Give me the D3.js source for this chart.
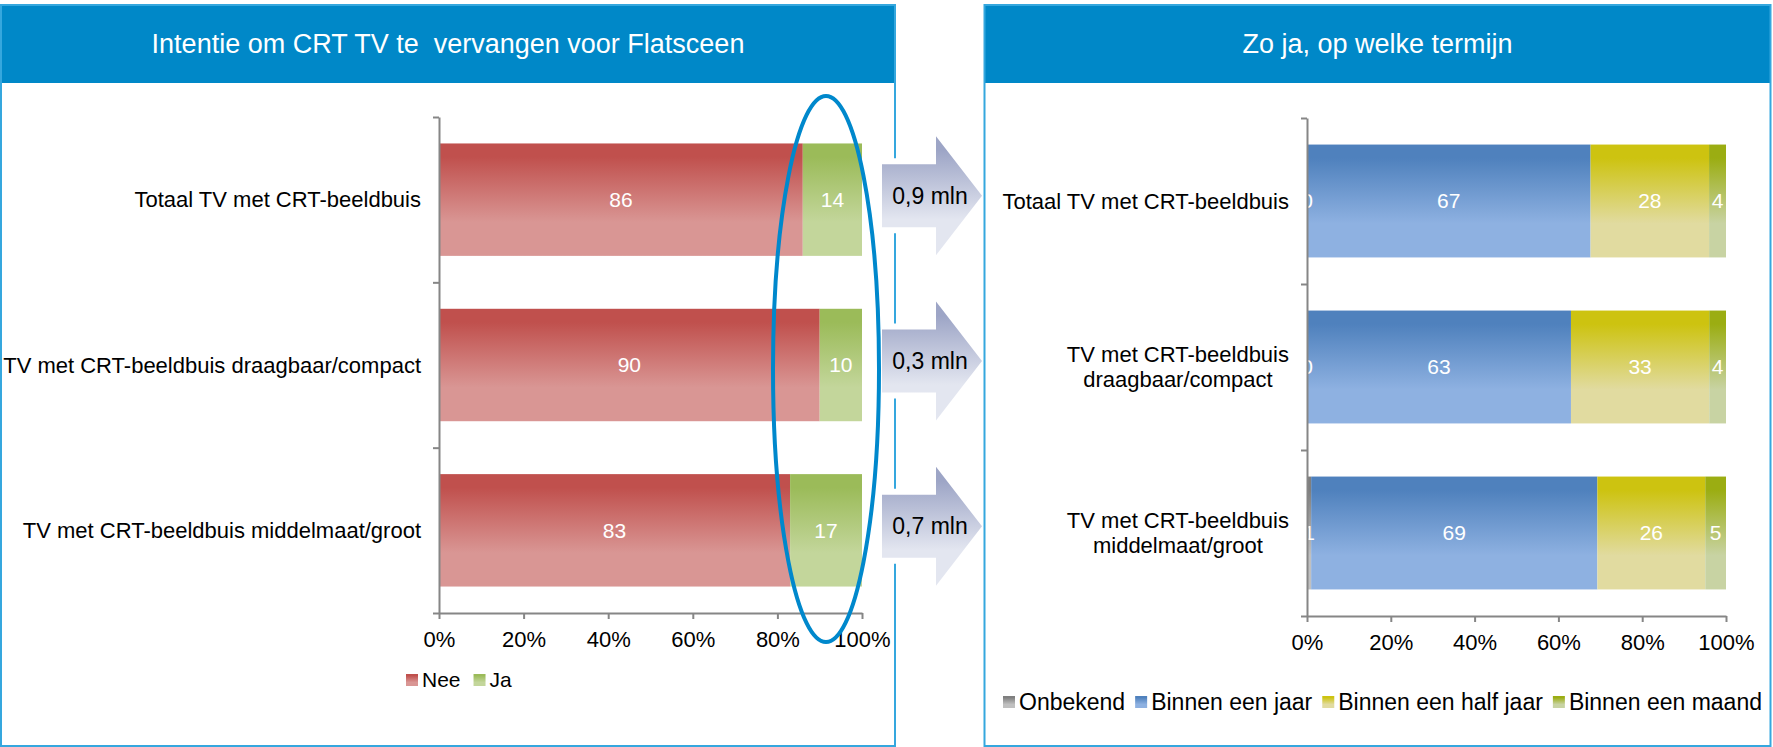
<!DOCTYPE html>
<html>
<head>
<meta charset="utf-8">
<script src="https://cdn.jsdelivr.net/npm/d3@7"></script>
<style>
  body { margin: 0; background: #fff; }
  svg text { font-family: "Liberation Sans", Arial, sans-serif; }
</style>
</head>
<body>
<svg id="chart" width="1773" height="747"></svg>
<script>
// data
const leftTitle = "Intentie om CRT TV te  vervangen voor Flatsceen";
const rightTitle = "Zo ja, op welke termijn";

const categories = ["Totaal TV met CRT-beeldbuis", "TV met CRT-beeldbuis draagbaar/compact", "TV met CRT-beeldbuis middelmaat/groot"];

const leftSeries = ["Nee", "Ja"];
const neeValues = [86, 90, 83];
const jaValues = [14, 10, 17];

const rightSeries = ["Onbekend", "Binnen een jaar", "Binnen een half jaar", "Binnen een maand"];
const onbekendValues = [0, 0, 1];
const jaarValues = [67, 63, 69];
const halfJaarValues = [28, 33, 26];
const maandValues = [4, 4, 5];

const mlnLabels = ["0,9 mln", "0,3 mln", "0,7 mln"];
const xTicks = [0, 0.2, 0.4, 0.6, 0.8, 1];

const svg = d3.select("#chart");
const defs = svg.append("defs");

// vertical gradients like the office bar fills
function grad(id, top, bottom) {
  const g = defs.append("linearGradient").attr("id", id)
    .attr("x1", 0).attr("y1", 0).attr("x2", 0).attr("y2", 1);
  [[0, top], [0.12, top], [0.7, bottom], [1, bottom]].forEach(([o, c]) =>
    g.append("stop").attr("offset", o).attr("stop-color", c));
}
grad("gNee", "#C0504D", "#D99694");
grad("gJa", "#9BBB59", "#C3D69B");
grad("gOnb", "#7F7F7F", "#C0C0C0");
grad("gJaar", "#4F81BD", "#8EB1E1");
grad("gHalf", "#CDC310", "#E1DBA0");
grad("gMaand", "#9BAD12", "#C8D3A3");
grad("gArrow", "#9DA5C6", "#E3E6F0");

const borderCol = "#35A7DE";
const headerCol = "#0088C8";

function panel(x0, x1, title) {
  const g = svg.append("g");
  g.append("rect").attr("x", x0).attr("y", 5).attr("width", x1 - x0).attr("height", 78)
    .attr("fill", headerCol);
  g.append("text").attr("x", (x0 + x1) / 2).attr("y", 53)
    .attr("text-anchor", "middle").attr("fill", "#fff")
    .style("font-size", "27px").style("white-space", "pre")
    .text(title);
  return g;
}
function panelBorder(x0, x1) {
  svg.append("rect").attr("x", x0).attr("y", 5).attr("width", x1 - x0).attr("height", 741)
    .attr("fill", "none").attr("stroke", borderCol).attr("stroke-width", 2);
}

// measuring helper
const meas = svg.append("text").style("font-size", "22px").attr("visibility", "hidden");
function textW(s) { meas.text(s); return meas.node().getComputedTextLength(); }
function wrap(s, maxW) {
  const words = s.split(" ");
  const lines = [];
  let cur = "";
  words.forEach(w => {
    const t = cur ? cur + " " + w : w;
    if (cur && textW(t) > maxW) { lines.push(cur); cur = w; } else cur = t;
  });
  lines.push(cur);
  return lines;
}

function stackedChart(o) {
  const rows = categories.map((c, i) => {
    const r = { cat: c };
    o.series.forEach((s, j) => r[s] = o.values[j][i]);
    return r;
  });
  const stacked = d3.stack().keys(o.series).offset(d3.stackOffsetExpand)(rows);

  const x = d3.scaleLinear().domain([0, 1]).range(o.xRange);
  const y = d3.scaleBand().domain(categories).range(o.yRange)
    .paddingInner(0.32).paddingOuter(0.16);
  const yEdge = d3.scaleLinear().domain([0, categories.length]).range(o.yRange);

  const g = svg.append("g");

  g.selectAll("g.layer").data(stacked).join("g")
    .attr("class", "layer")
    .attr("fill", (d, i) => `url(#${o.ids[i]})`)
    .selectAll("rect").data(d => d).join("rect")
    .attr("x", d => x(d[0]))
    .attr("width", d => x(d[1]) - x(d[0]))
    .attr("y", d => y(d.data.cat))
    .attr("height", y.bandwidth());

  stacked.forEach(s => {
    g.append("g").selectAll("text").data(s).join("text")
      .attr("x", d => (x(d[0]) + x(d[1])) / 2)
      .attr("y", d => y(d.data.cat) + y.bandwidth() / 2)
      .attr("dy", "0.35em")
      .attr("text-anchor", "middle")
      .attr("fill", "#fff")
      .style("font-size", "21px")
      .text(d => d.data[s.key]);
  });

  const xAxis = g.append("g")
    .attr("transform", `translate(0,${o.yRange[1]})`)
    .call(d3.axisBottom(x).tickValues(xTicks).tickFormat(d3.format(".0%"))
      .tickSize(6).tickSizeOuter(0).tickPadding(12));
  const yAxis = g.append("g")
    .attr("transform", `translate(${o.xRange[0]},0)`)
    .call(d3.axisLeft(yEdge).tickValues(d3.range(categories.length + 1))
      .tickFormat("").tickSize(6).tickSizeOuter(0));
  [xAxis, yAxis].forEach(a => {
    a.attr("font-family", null).attr("font-size", null);
    a.selectAll("path, line").attr("stroke", "#868686").attr("stroke-width", 2);
    a.selectAll("text").attr("fill", "#000").style("font-size", "22px");
  });

  // category labels, lines centred on each other, block right-aligned
  const right = o.xRange[0] - 18;
  categories.forEach(c => {
    const lines = wrap(c, o.wrapW);
    const maxW = d3.max(lines, textW);
    const cy = y(c) + y.bandwidth() / 2;
    const lh = 25;
    lines.forEach((l, i) => {
      g.append("text")
        .attr("x", right - maxW / 2)
        .attr("y", cy + (i - (lines.length - 1) / 2) * lh)
        .attr("dy", "0.35em")
        .attr("text-anchor", "middle")
        .style("font-size", "22px")
        .text(l);
    });
  });

  // legend
  let lx = o.legendX;
  o.series.forEach((s, i) => {
    g.append("rect").attr("x", lx).attr("y", o.legendY - 6)
      .attr("width", 12).attr("height", 12).attr("fill", `url(#${o.ids[i]})`);
    const t = g.append("text").attr("x", lx + 16).attr("y", o.legendY)
      .attr("dy", "0.35em").style("font-size", o.legendFont).text(s);
    lx += 16 + t.node().getComputedTextLength() + o.legendGap;
  });

  return { x, y };
}

// left panel
panel(1, 895, leftTitle);
panelBorder(1, 895);
const left = stackedChart({
  series: leftSeries,
  values: [neeValues, jaValues],
  ids: ["gNee", "gJa"],
  xRange: [439, 862],
  yRange: [117, 613],
  wrapW: 450,
  legendX: 406,
  legendY: 680,
  legendFont: "21px",
  legendGap: 13
});

// arrows between the panels
const arrowShape = [[882, -31.5], [936, -31.5], [936, -59.5], [982, 0], [936, 59.5], [936, 31.5], [882, 31.5]];
const arrowPath = "M" + arrowShape.map(p => p.join(",")).join("L") + "Z";
const arrows = svg.append("g").selectAll("g").data(mlnLabels).join("g")
  .attr("transform", (d, i) => `translate(0,${left.y(categories[i]) + left.y.bandwidth() / 2 - 4})`);
arrows.append("path").attr("d", arrowPath)
  .attr("fill", "#fff").attr("stroke", "#fff").attr("stroke-width", 12).attr("stroke-linejoin", "round");
arrows.append("path").attr("d", arrowPath).attr("fill", "url(#gArrow)");
arrows.append("text").attr("x", 930).attr("y", 0).attr("dy", "0.35em")
  .attr("text-anchor", "middle").style("font-size", "23px").attr("fill", "#000")
  .text(d => d);

// right panel
panel(984.5, 1770.5, rightTitle);
panelBorder(984.5, 1770.5);
stackedChart({
  series: rightSeries,
  values: [onbekendValues, jaarValues, halfJaarValues, maandValues],
  ids: ["gOnb", "gJaar", "gHalf", "gMaand"],
  xRange: [1307, 1726],
  yRange: [118, 616],
  wrapW: 300,
  legendX: 1003,
  legendY: 702,
  legendFont: "23px",
  legendGap: 10
});

// highlight ellipse round the "Ja" column
svg.append("ellipse")
  .attr("cx", 826).attr("cy", 369).attr("rx", 53).attr("ry", 273)
  .attr("fill", "none").attr("stroke", "#0088CC").attr("stroke-width", 4);
</script>
</body>
</html>
